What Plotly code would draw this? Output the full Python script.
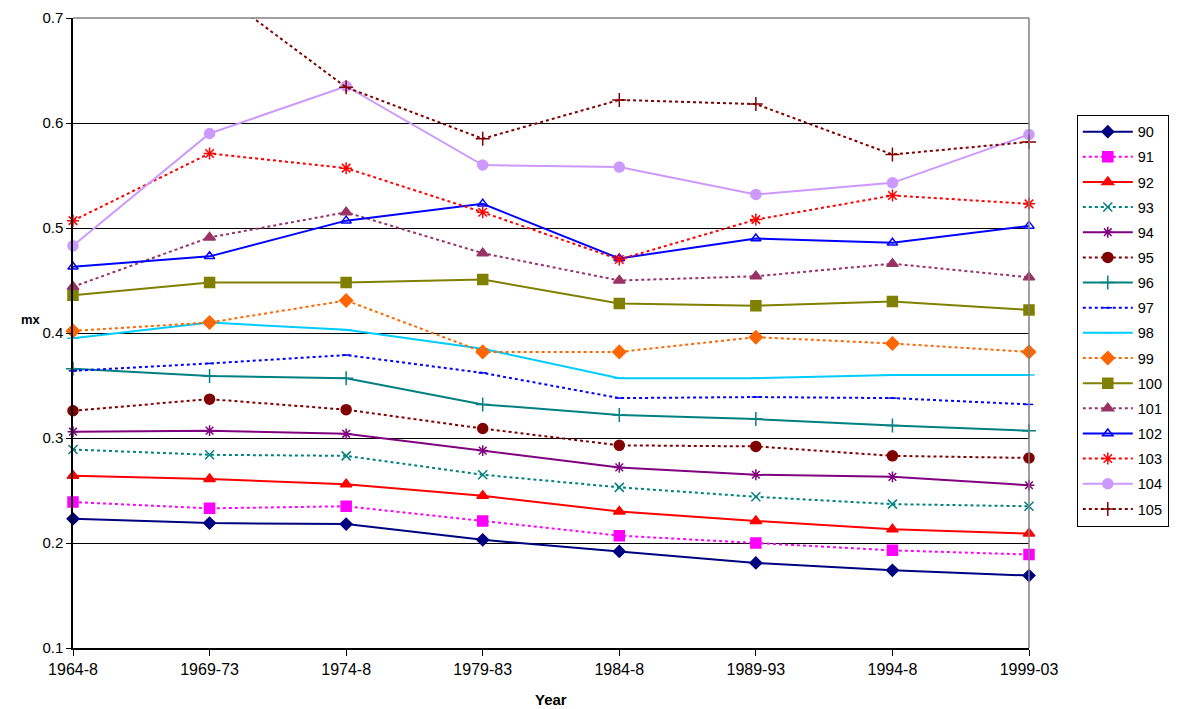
import plotly.graph_objects as go

# Periods on the x axis
periods = ["1964-8", "1969-73", "1974-8", "1979-83", "1984-8", "1989-93", "1994-8", "1999-03"]

# mx values per age
mx_90 = [0.223, 0.219, 0.218, 0.203, 0.192, 0.181, 0.174, 0.169]
mx_91 = [0.239, 0.233, 0.235, 0.221, 0.207, 0.200, 0.193, 0.189]
mx_92 = [0.264, 0.261, 0.256, 0.245, 0.230, 0.221, 0.213, 0.209]
mx_93 = [0.289, 0.284, 0.283, 0.265, 0.253, 0.244, 0.237, 0.235]
mx_94 = [0.306, 0.307, 0.304, 0.288, 0.272, 0.265, 0.263, 0.255]
mx_95 = [0.326, 0.337, 0.327, 0.309, 0.293, 0.292, 0.283, 0.281]
mx_96 = [0.366, 0.359, 0.357, 0.332, 0.322, 0.318, 0.312, 0.307]
mx_97 = [0.364, 0.371, 0.379, 0.362, 0.338, 0.339, 0.338, 0.332]
mx_98 = [0.395, 0.410, 0.403, 0.385, 0.357, 0.357, 0.360, 0.360]
mx_99 = [0.402, 0.410, 0.431, 0.382, 0.382, 0.396, 0.390, 0.382]
mx_100 = [0.436, 0.448, 0.448, 0.451, 0.428, 0.426, 0.430, 0.422]
mx_101 = [0.444, 0.491, 0.515, 0.476, 0.450, 0.454, 0.466, 0.453]
mx_102 = [0.463, 0.473, 0.507, 0.523, 0.471, 0.490, 0.486, 0.502]
mx_103 = [0.507, 0.571, 0.557, 0.515, 0.470, 0.508, 0.531, 0.523]
mx_104 = [0.483, 0.590, 0.635, 0.560, 0.558, 0.532, 0.543, 0.589]
mx_105 = [0.760, 0.731, 0.634, 0.585, 0.622, 0.618, 0.570, 0.582]

ages = ["90", "91", "92", "93", "94", "95", "96", "97",
        "98", "99", "100", "101", "102", "103", "104", "105"]
values = [mx_90, mx_91, mx_92, mx_93, mx_94, mx_95, mx_96, mx_97,
          mx_98, mx_99, mx_100, mx_101, mx_102, mx_103, mx_104, mx_105]

DOT = "3px,3px"
# colour, dash, marker symbol, marker size
styles = [
    ("#000080", "solid", "diamond", 9),
    ("#FF00FF", DOT, "square", 10),
    ("#FF0000", "solid", "triangle-up", 10),
    ("#008080", DOT, "x-thin-open", 9),
    ("#800080", "solid", "asterisk-open", 9),
    ("#800000", DOT, "circle", 10),
    ("#008080", "solid", "cross-thin-open", 10),
    ("#0000FF", DOT, "line-ew-open", 6),
    ("#00CCFF", "solid", "line-ew-open", 8),
    ("#FF6600", DOT, "diamond", 10),
    ("#808000", "solid", "square", 10),
    ("#993366", DOT, "triangle-up", 10),
    ("#0000FF", "solid", "triangle-up-open", 9),
    ("#FF0000", DOT, "asterisk-open", 10),
    ("#CC99FF", "solid", "circle", 10),
    ("#800000", DOT, "cross-thin-open", 10),
]

fig = go.Figure()

for age, vals, (color, dash, symbol, size) in zip(ages, values, styles):
    fig.add_trace(
        go.Scatter(
            x=periods,
            y=vals,
            name=age,
            legendgroup=age,
            mode="lines+markers",
            line=dict(color=color, width=2, dash=dash),
            marker=dict(symbol=symbol, size=size, color=color,
                        line=dict(color=color, width=1.5)),
            cliponaxis=False,
        )
    )

# grey plot-area border on top and right
fig.add_shape(type="line", xref="paper", yref="paper", x0=0, x1=1, y0=1, y1=1,
              line=dict(color="#808080", width=1.5))
fig.add_shape(type="line", xref="paper", yref="paper", x0=1, x1=1, y0=0, y1=1,
              line=dict(color="#808080", width=1.5))

fig.add_annotation(text="<b>mx</b>", xref="paper", yref="paper", x=-0.057, y=0.521,
                   xanchor="left", showarrow=False, font=dict(size=13))
fig.add_annotation(text="<b>Year</b>", xref="paper", yref="paper", x=0.5, y=-0.082,
                   yanchor="middle", showarrow=False, font=dict(size=15))

fig.update_layout(
    width=1181,
    height=709,
    margin=dict(l=73, r=150, t=18, b=61),
    plot_bgcolor="white",
    paper_bgcolor="white",
    font=dict(family="Liberation Sans, Arial", size=15, color="black"),
    showlegend=True,
    legend=dict(
        x=1.05, y=0.8465, xanchor="left", yanchor="top",
        bordercolor="black", borderwidth=1,
        font=dict(size=14.5),
        tracegroupgap=3.3,
        itemwidth=50,
    ),
    xaxis=dict(
        type="category",
        range=[0, 7],
        automargin=False,
        showline=True, linecolor="black", linewidth=1.5,
        ticks="outside", ticklen=6, tickcolor="black",
        showgrid=False,
        tickfont=dict(size=16),
    ),
    yaxis=dict(
        range=[0.1, 0.7],
        dtick=0.1,
        tickformat=".1f",
        automargin=False,
        showline=True, linecolor="black", linewidth=1.5,
        ticks="outside", ticklen=5, tickcolor="black",
        showgrid=True, gridcolor="black", gridwidth=1,
        zeroline=False,
        tickfont=dict(size=15),
    ),
)

fig.write_html("out.html", config={"displayModeBar": False},
               post_script="document.body.style.margin='0';")
